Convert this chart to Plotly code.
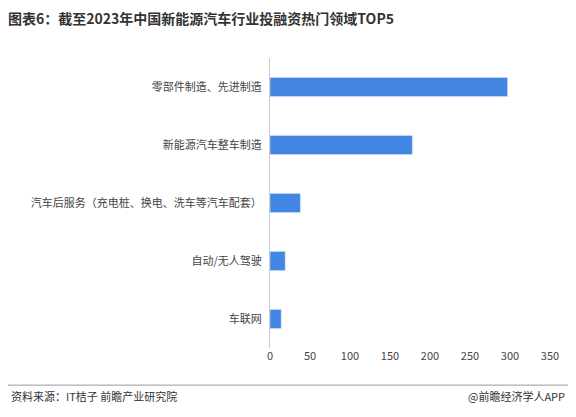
import plotly.graph_objects as go

categories = ["零部件制造、先进制造", "新能源汽车整车制造", "汽车后服务（充电桩、换电、洗车等汽车配套）", "自动/无人驾驶", "车联网"]
values = [297, 178, 38, 19, 14]

fig = go.Figure(go.Bar(
    x=values, y=categories, orientation="h",
    marker_color="#4385e3", width=0.33
))

fig.update_layout(
    width=576, height=417,
    margin=dict(l=262, r=26, t=50, b=77, autoexpand=False),
    paper_bgcolor="white", plot_bgcolor="white",
    font=dict(family="Noto Sans CJK SC", size=11, color="#444"),
    showlegend=False,
    title=dict(text="<b>图表6：截至2023年中国新能源汽车行业投融资热门领域TOP5</b>",
               x=0.0, xanchor="left", y=0.985, yanchor="top", font=dict(size=14, color="#333")),
    annotations=[
        dict(text="资料来源：IT桔子 前瞻产业研究院", x=-0.905, y=-0.166, xref="paper", yref="paper",
             xanchor="left", yanchor="middle", showarrow=False, font=dict(size=11, color="#333")),
        dict(text="@前瞻经济学人APP", x=1.03, y=-0.166, xref="paper", yref="paper",
             xanchor="right", yanchor="middle", showarrow=False, font=dict(size=11, color="#333")),
    ],
    shapes=[dict(type="line", xref="paper", yref="paper", x0=-0.91, x1=1.06, y0=-0.128, y1=-0.128,
                 line=dict(color="#999", width=1))],
)
fig.update_xaxes(range=[0, 360], tickvals=[0, 50, 100, 150, 200, 250, 300, 350],
                 showgrid=False, zeroline=False, showline=False, ticks="")
fig.update_yaxes(autorange="reversed", showline=True, linecolor="#ccc", ticks="", ticksuffix="  ")

fig.write_html("out.html")
